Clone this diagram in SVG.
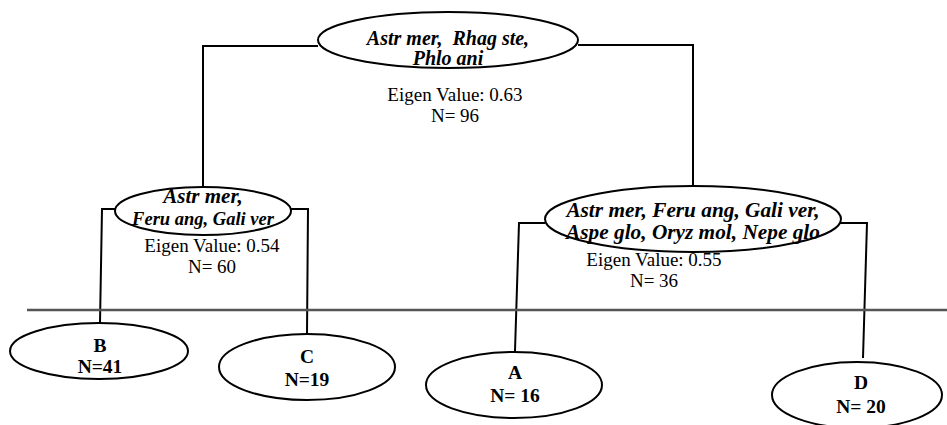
<svg xmlns="http://www.w3.org/2000/svg" width="947" height="425" viewBox="0 0 947 425">
<style>
.node ellipse{fill:#fff;stroke:#000;stroke-width:2}
text{font-family:'Liberation Serif','DejaVu Serif',serif;text-anchor:middle;fill:#000}
.lbl{font-weight:bold;font-style:italic}
.leaf{font-weight:bold;font-size:19.5px}
.info{font-size:19px}
#connectors polyline{fill:none;stroke:#000;stroke-width:2}
</style>
<rect width="947" height="425" fill="#fff"/>
<g id="connectors">
<polyline points="318,46 203,46 203,187"/>
<polyline points="578,45 693,45 693,186"/>
<polyline points="116,209 102,209 100,323"/>
<polyline points="290,209 308,209 307,334"/>
<polyline points="545,223 519,223 515,351"/>
<polyline points="840,223 867,223 863,358"/>
</g>
<line id="divider" x1="27" y1="310" x2="947" y2="310" stroke="#555" stroke-width="2.5"/>
<g id="root" class="node">
<ellipse cx="448" cy="40" rx="130" ry="28"/>
<text class="lbl" font-size="20" x="448" y="45" xml:space="preserve">Astr mer,  Rhag ste,</text>
<text class="lbl" font-size="20" x="448" y="65">Phlo ani</text>
<text class="info" x="455" y="101">Eigen Value: 0.63</text>
<text class="info" x="455" y="122">N= 96</text>
</g>
<g id="left" class="node">
<ellipse cx="203" cy="211" rx="88" ry="24"/>
<text class="lbl" font-size="21" x="203" y="203">Astr mer,</text>
<text class="lbl" font-size="18.5" x="203" y="225">Feru ang, Gali ver</text>
<text class="info" x="212" y="252">Eigen Value: 0.54</text>
<text class="info" x="212" y="273">N= 60</text>
</g>
<g id="right" class="node">
<ellipse cx="693" cy="219" rx="148" ry="33"/>
<text class="lbl" font-size="21.3" x="693" y="217">Astr mer, Feru ang, Gali ver,</text>
<text class="lbl" font-size="21.3" x="693" y="239">Aspe glo, Oryz mol, Nepe glo</text>
<text class="info" x="654" y="266">Eigen Value: 0.55</text>
<text class="info" x="654" y="287">N= 36</text>
</g>
<g id="B" class="node">
<ellipse cx="99" cy="351" rx="89" ry="28"/>
<text class="leaf" x="100" y="352">B</text>
<text class="leaf" x="100" y="373">N=41</text>
</g>
<g id="C" class="node">
<ellipse cx="307" cy="367" rx="88" ry="33"/>
<text class="leaf" x="307" y="363">C</text>
<text class="leaf" x="307" y="386">N=19</text>
</g>
<g id="A" class="node">
<ellipse cx="514" cy="385" rx="88" ry="33"/>
<text class="leaf" x="515" y="379">A</text>
<text class="leaf" x="515" y="402">N= 16</text>
</g>
<g id="D" class="node">
<ellipse cx="857" cy="395" rx="85" ry="33"/>
<text class="leaf" x="861" y="389">D</text>
<text class="leaf" x="861" y="413">N= 20</text>
</g>
</svg>
